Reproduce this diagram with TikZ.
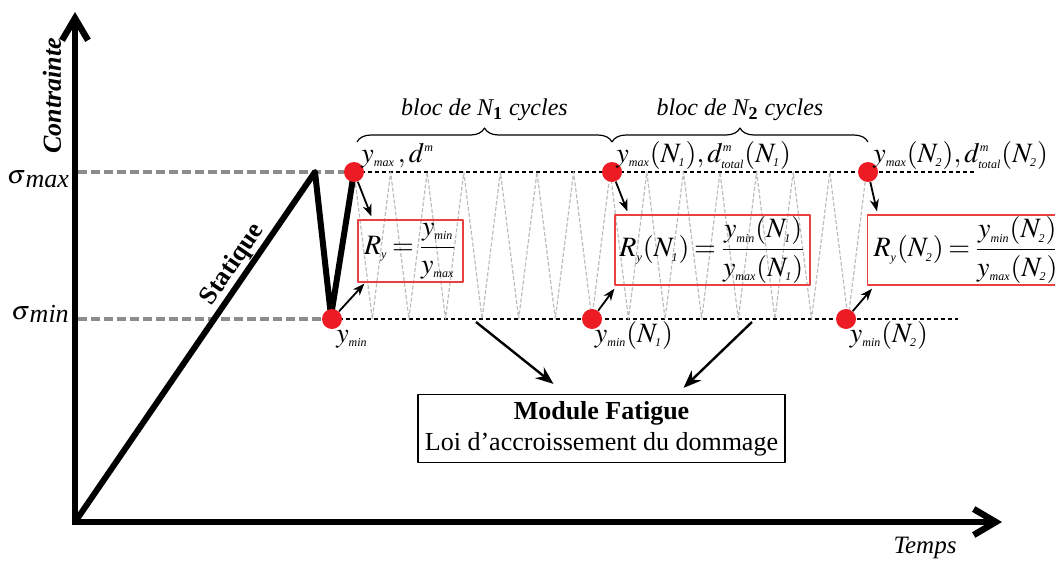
\documentclass[tikz,border=0pt]{standalone}
\usepackage{amsmath}
\usepackage{mathptmx}
\usepackage[no-math]{fontspec}
\setmainfont{Liberation Serif}
\usetikzlibrary{arrows.meta,decorations.pathreplacing}
\definecolor{pointrouge}{HTML}{ED1C24}
\definecolor{cadrerouge}{HTML}{E8413F}
\definecolor{grisfonce}{HTML}{8C8C8C}
\definecolor{grisclair}{HTML}{BDBDBD}
\newcommand{\ind}[1]{_{\mbox{\fontsize{6}{6}\selectfont\itshape #1}}}
\newcommand{\expo}[1]{^{\mbox{\fontsize{6}{6}\selectfont\itshape #1}}}
\newcommand{\serre}{\thickmuskip=3mu\relax\medmuskip=2mu\relax}

\begin{document}
\begin{tikzpicture}[x=0.5pt, y=-0.5pt, line join=round]
  % Styles du diagramme de chargement
  \tikzset{
    axe/.style={line width=3.2pt, line join=miter,
      {Straight Barb[length=11pt,width=13pt]}-{Straight Barb[length=11pt,width=13pt]}},
    charge/.style={line width=3pt},
    niveau/.style={grisfonce, line width=2pt, dash pattern=on 4.5pt off 2pt},
    palier/.style={black, line width=0.6pt, dash pattern=on 2pt off 1.5pt},
    cyclegris/.style={grisclair, line width=0.6pt, dash pattern=on 2pt off 1pt},
    point/.style={circle, fill=pointrouge, inner sep=0pt, minimum size=10pt},
    cadre/.style={draw=cadrerouge, line width=0.6pt, inner sep=1pt, font=\fontsize{14}{16}\selectfont},
    etiq/.style={inner sep=1pt, font=\fontsize{14}{16}\selectfont},
    bloc/.style={font=\fontsize{12}{14}\selectfont\itshape},
    accolade/.style={line width=0.6pt, decorate, decoration={brace, amplitude=7pt}},
    petite/.style={-{Stealth[length=6pt,width=4.5pt]}, line width=0.9pt},
    grande/.style={-{Stealth[length=9pt,width=7pt]}, line width=1.2pt},
    module/.style={draw, line width=0.6pt, align=center, minimum width=183.5pt,
      minimum height=33.5pt, font=\fontsize{13}{15.5}\selectfont}
  }
  \useasboundingbox (0,0) rectangle (1055,562);

  % Axes
  \coordinate (O) at (75,522);
  \coordinate (ytop) at (75,12);
  \coordinate (xend) at (1002,522);
  \draw[axe] (ytop) -- (O) -- (xend);
  \node[font=\fontsize{13}{15}\selectfont\bfseries\itshape, rotate=90] (contrainte) at (52,96) {Contrainte};
  \node[font=\fontsize{12.5}{15}\selectfont\itshape] (temps) at (925,548) {Temps};
  \node[font=\fontsize{13}{16}\selectfont, inner sep=0pt] (smax) at (38,179) {$\sigma$\raisebox{-0.3ex}{\textit{max}}};
  \node[font=\fontsize{13}{16}\selectfont, inner sep=0pt] (smin) at (40,314) {$\sigma$\raisebox{-0.3ex}{\textit{min}}};

  % Positions des points
  \coordinate (P0h) at (354,172);
  \coordinate (P0b) at (332,319);
  \coordinate (P1h) at (612,172);
  \coordinate (P1b) at (592,319);
  \coordinate (P2h) at (868,172);
  \coordinate (P2b) at (846,319);
  \coordinate (Fh) at (975,172);
  \coordinate (Fb) at (958,319);
  \coordinate (Smax) at (78,172);
  \coordinate (Smin) at (78,319);
  \coordinate (pic) at (315,172);
  \coordinate (creux) at (331,316);

  % Niveaux de contrainte
  \draw[niveau] (Smax) -- (P0h);
  \draw[niveau] (Smin) -- (P0b);
  \draw[palier] (P0h) -- (Fh);
  \draw[palier] (P0b) -- (Fb);

  % Cycles
  \draw[cyclegris] (P0h)
    \foreach \k in {0,...,13} {
      -- ({372.3+36.6*\k},319) -- ({390.6+36.6*\k},172)
    };

  % Chargement statique
  \draw[charge] (O) -- (pic) -- (creux) -- (P0h);
  \path (O) -- (pic) node[pos=0.71, sloped, above=0pt, inner sep=1.5pt, font=\fontsize{13}{15}\selectfont\bfseries] (statique) {Statique};

  % Points rouges
  \foreach \p in {P0h,P0b,P1h,P1b,P2h,P2b}
    \node[point] (d\p) at (\p) {};

  % Accolades des blocs
  \coordinate (A0) at (357,142);
  \coordinate (A1) at (612,142);
  \coordinate (A2) at (868,142);
  \draw[accolade] (A0) -- (A1) node[midway, above=7pt, bloc] (bloc1) {bloc de N\textsubscript{\textbf{\upshape 1}} cycles};
  \draw[accolade] (A1) -- (A2) node[midway, above=7pt, bloc] (bloc2) {bloc de N\textsubscript{\textbf{\upshape 2}} cycles};

  % Etiquettes
  \node[etiq, anchor=base west] (l0h) at (359,162) {$y\ind{max}\,, d\expo{m}$};
  \node[etiq, anchor=base west] (l1h) at (614,162) {$y\ind{max}(N\ind{1}), d\expo{m}\ind{total}(N\ind{1})$};
  \node[etiq, anchor=base west] (l2h) at (871,162) {$y\ind{max}(N\ind{2}), d\expo{m}\ind{total}(N\ind{2})$};
  \node[etiq, anchor=base] (l0b) at (352,342) {$y\ind{min}$};
  \node[etiq, anchor=base] (l1b) at (634,342) {$y\ind{min}(N\ind{1})$};
  \node[etiq, anchor=base] (l2b) at (889,342) {$y\ind{min}(N\ind{2})$};

  % Rapports de charge
  \node[cadre, minimum width=52.5pt, minimum height=31pt] (R0) at (410.5,251)
    {$\serre R\ind{y}=\dfrac{y\ind{min}}{y\ind{max}}$};
  \node[cadre, minimum width=97.5pt, minimum height=34pt] (R1) at (712.5,250)
    {$\serre R\ind{y}(N\ind{1})=\dfrac{y\ind{min}(N\ind{1})}{y\ind{max}(N\ind{1})}$};
  \node[cadre, anchor=west, minimum height=34pt, inner xsep=3pt] (R2) at (867,250)
    {\makebox[98pt][l]{$\serre R\ind{y}(N\ind{2})=\dfrac{y\ind{min}(N\ind{2})}{y\ind{max}(N\ind{2})}$}};

  \draw[petite] (dP0h) -- ([xshift=7pt,yshift=1.5pt]R0.north west);
  \draw[petite] (dP0b) -- ([xshift=3.5pt,yshift=-0.5pt]R0.south west);
  \draw[petite] (dP1h) -- ([xshift=6.5pt,yshift=1.5pt]R1.north west);
  \draw[petite] (dP1b) -- ([xshift=0pt,yshift=-1.5pt]R1.south west);
  \draw[petite] (dP2h) -- ([xshift=5pt,yshift=1.5pt]R2.north west);
  \draw[petite] (dP2b) -- ([xshift=2.5pt,yshift=-1.5pt]R2.south west);

  % Module fatigue
  \node[module] (MF) at (601.5,428.5) {\textbf{Module Fatigue}\\Loi d’accroissement du dommage};
  \coordinate (F1) at (476,322);
  \coordinate (F2) at (752,322);
  \draw[grande] (F1) -- ([xshift=-24pt,yshift=5pt]MF.north);
  \draw[grande] (F2) -- ([xshift=41pt,yshift=3pt]MF.north);
\end{tikzpicture}
\end{document}
